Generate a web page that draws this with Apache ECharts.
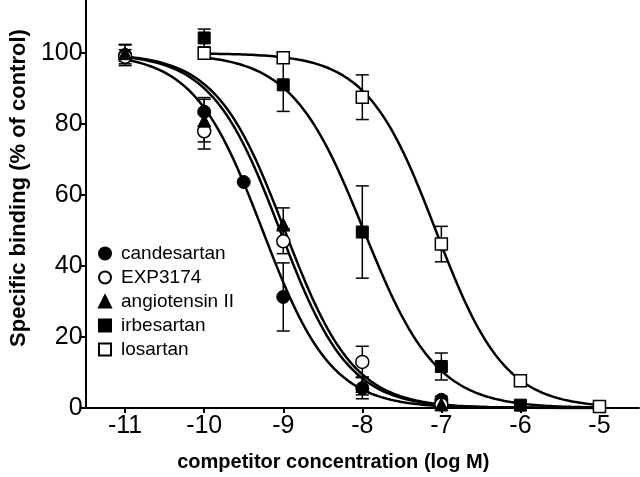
<!DOCTYPE html>
<html>
<head>
<meta charset="utf-8">
<script src="https://cdn.jsdelivr.net/npm/echarts@6/dist/echarts.min.js"></script>
<style>html,body{margin:0;padding:0;background:#fff;}#chart{width:640px;height:477px;}</style>
</head>
<body>
<div id="chart"></div>
<script>
// ---- data ----
const seriesNames = ['candesartan', 'EXP3174', 'angiotensin II', 'irbesartan', 'losartan'];
const xTicks = [-11, -10, -9, -8, -7, -6, -5];
const yTicks = [0, 20, 40, 60, 80, 100];

// [log M, % of control, SEM]
const candesartan = [[-11, 99.5, 3], [-10, 83.5, 4], [-9.5, 63.7, 0], [-9, 31.3, 9.6], [-8, 5.6, 3], [-7, 2.3, 1]];
const exp3174 = [[-11, 99, 2], [-10, 78, 5], [-9, 47, 3.5], [-8, 13, 4.4], [-7, 1, 0.5]];
const angiotensin = [[-11, 100, 2.3], [-10, 81, 6], [-9, 51.7, 4.7], [-8, 6.2, 2.5], [-7, 1, 0.5]];
const irbesartan = [[-10, 104.3, 2.5], [-9, 91.1, 7.5], [-8, 49.6, 13], [-7, 11.7, 3.8], [-6, 0.8, 0], [-5, 0.4, 0]];
const losartan = [[-10, 100, 0], [-9, 98.7, 1.5], [-8, 87.6, 6.3], [-7, 46.2, 5], [-6, 7.7, 0], [-5, 0.4, 0]];

// fitted sigmoid parameters
const fitLogIC50 = [-9.26, -9.04, -8.98, -7.98, -7.07];
const fitHill = [1.0, 1.0, 1.0, 0.95, 1.0];
const fitStart = [-11, -11, -11, -10, -10];
const fitEnd = [-5, -5, -5, -5, -5];

// ---- build chart ----
const allData = [candesartan, exp3174, angiotensin, irbesartan, losartan];
const symbols = ['circle', 'circle', 'triangle', 'rect', 'rect'];
const filled = [true, false, true, true, false];
const symSizes = [13, 13, 13, 12, 12];

function curve(i) {
  const pts = [];
  const n = Math.round((fitEnd[i] - fitStart[i]) / 0.04);
  for (let k = 0; k <= n; k++) {
    const x = fitStart[i] + k * (fitEnd[i] - fitStart[i]) / n;
    pts.push([x, 100 / (1 + Math.pow(10, (x - fitLogIC50[i]) * fitHill[i]))]);
  }
  return pts;
}

const series = [];
allData.forEach((d, i) => {
  series.push({
    type: 'line', name: 'fit' + i, data: curve(i), showSymbol: false, symbol: 'none',
    lineStyle: { color: '#000', width: 2.5 }, z: 2, silent: true, smooth: false
  });
});
allData.forEach((d, i) => {
  series.push({
    type: 'custom', name: 'err' + i, z: 3, silent: true,
    data: d.filter(p => p[2] > 0).map(p => [p[0], p[1] - p[2], p[1] + p[2]]),
    renderItem: function (params, api) {
      const lo = api.coord([api.value(0), api.value(1)]);
      const hi = api.coord([api.value(0), api.value(2)]);
      const hw = 6.5;
      const st = { stroke: '#000', lineWidth: 1.5 };
      return {
        type: 'group', children: [
          { type: 'line', shape: { x1: lo[0], y1: lo[1], x2: hi[0], y2: hi[1] }, style: st },
          { type: 'line', shape: { x1: lo[0] - hw, y1: lo[1], x2: lo[0] + hw, y2: lo[1] }, style: st },
          { type: 'line', shape: { x1: hi[0] - hw, y1: hi[1], x2: hi[0] + hw, y2: hi[1] }, style: st }
        ]
      };
    }
  });
});
allData.forEach((d, i) => {
  series.push({
    type: 'scatter', name: seriesNames[i], data: d.map(p => [p[0], p[1]]),
    symbol: symbols[i], symbolSize: symSizes[i], z: 5,
    itemStyle: filled[i] ? { color: '#000', borderColor: '#000', borderWidth: 1, opacity: 1 }
                         : { color: '#fff', borderColor: '#000', borderWidth: 1.5, opacity: 1 }
  });
});

const font = 'Liberation Sans, Arial, Helvetica, sans-serif';
const chart = echarts.init(document.getElementById('chart'), null, { renderer: 'canvas' });
chart.setOption({
  animation: false,
  backgroundColor: '#fff',
  grid: { left: 77, top: 0, width: 562, height: 408 },
  legend: {
    data: seriesNames, orient: 'vertical', left: 93, top: 239,
    itemWidth: 12, itemHeight: 12, itemGap: 5,
    textStyle: { fontFamily: font, fontSize: 19, color: '#000', padding: [0, 0, 0, 5] }
  },
  xAxis: {
    type: 'value', min: -11.5, max: -4.5,
    axisLine: { lineStyle: { color: '#000', width: 2 } },
    axisTick: { show: true, length: 5, lineStyle: { color: '#000', width: 2 }, customValues: xTicks },
    axisLabel: { customValues: xTicks, color: '#000', fontFamily: font, fontSize: 25, margin: 6 },
    splitLine: { show: false },
    name: 'competitor concentration (log M)', nameLocation: 'middle', nameGap: 44,
    nameTextStyle: { fontFamily: font, fontSize: 20, fontWeight: 'bold', color: '#000', padding: [0, 58, 0, 0] }
  },
  yAxis: {
    type: 'value', min: 0, max: 115,
    axisLine: { show: true, lineStyle: { color: '#000', width: 2 } },
    axisTick: { show: true, length: 6, lineStyle: { color: '#000', width: 2 }, customValues: yTicks },
    axisLabel: { customValues: yTicks, color: '#000', fontFamily: font, fontSize: 25, margin: 3 },
    splitLine: { show: false },
    name: 'Specific binding (% of control)', nameLocation: 'middle', nameGap: 52, nameRotate: 90,
    nameTextStyle: { fontFamily: font, fontSize: 22, fontWeight: 'bold', color: '#000', padding: [0, 0, 0, 32] }
  },
  series: series
});
</script>
</body>
</html>
